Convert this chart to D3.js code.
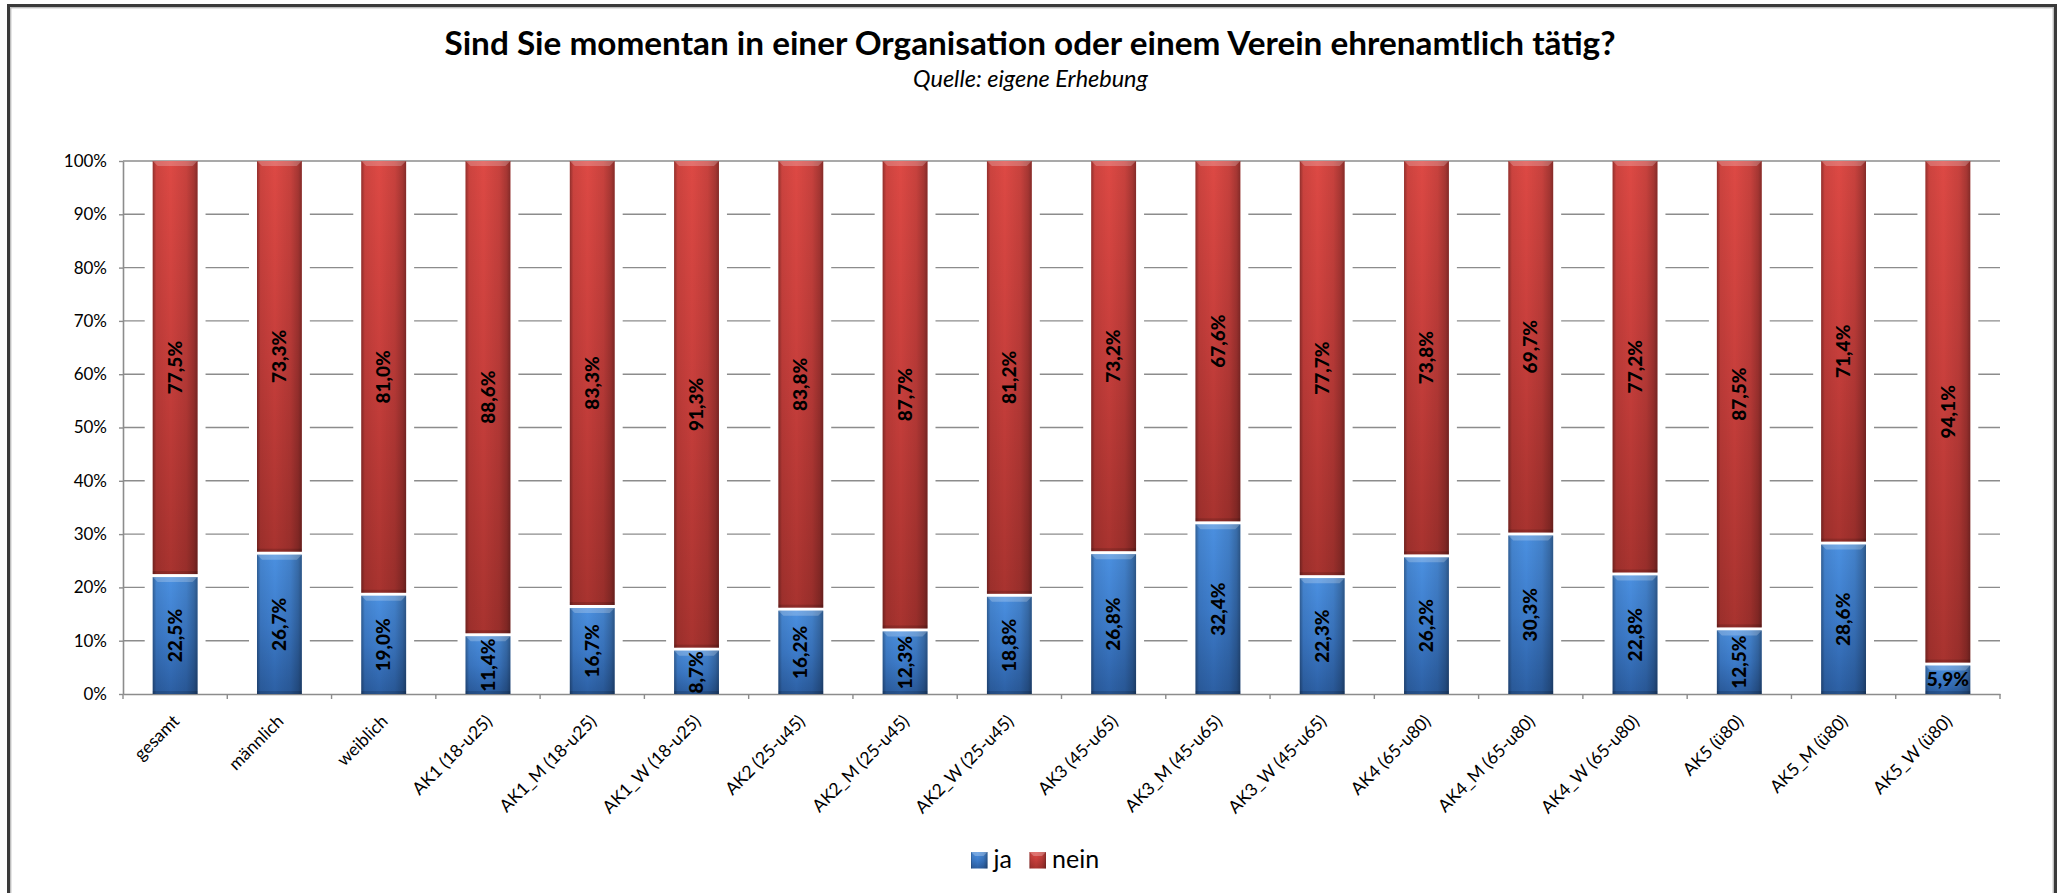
<!DOCTYPE html>
<html>
<head>
<meta charset="utf-8">
<script src="https://cdn.jsdelivr.net/npm/d3@7"></script>
<style>
  html, body { margin: 0; padding: 0; background: #fff; overflow: hidden; }
  text { font-family: Lato, "Open Sans", sans-serif; }
</style>
</head>
<body>
<svg id="chart" width="2063" height="893"></svg>
<script>
// ---- data ----
const categories = [
  "gesamt", "männlich", "weiblich",
  "AK1 (18-u25)", "AK1_M (18-u25)", "AK1_W (18-u25)",
  "AK2 (25-u45)", "AK2_M (25-u45)", "AK2_W (25-u45)",
  "AK3 (45-u65)", "AK3_M (45-u65)", "AK3_W (45-u65)",
  "AK4 (65-u80)", "AK4_M (65-u80)", "AK4_W (65-u80)",
  "AK5 (ü80)", "AK5_M (ü80)", "AK5_W (ü80)"
];
const jaValues   = [22.5, 26.7, 19.0, 11.4, 16.7, 8.7, 16.2, 12.3, 18.8, 26.8, 32.4, 22.3, 26.2, 30.3, 22.8, 12.5, 28.6, 5.9];
const neinValues = [77.5, 73.3, 81.0, 88.6, 83.3, 91.3, 83.8, 87.7, 81.2, 73.2, 67.6, 77.7, 73.8, 69.7, 77.2, 87.5, 71.4, 94.1];
const seriesKeys = ["ja", "nein"];
const yTickValues = [0, 10, 20, 30, 40, 50, 60, 70, 80, 90, 100];
const titleText = "Sind Sie momentan in einer Organisation oder einem Verein ehrenamtlich tätig?";
const subtitleText = "Quelle: eigene Erhebung";

// ---- setup ----
const svg = d3.select("#chart");
const defs = svg.append("defs");
const plot = { left: 123, right: 2000, top: 161, bottom: 694 };

const rows = categories.map((c, i) => ({ cat: c, ja: jaValues[i], nein: neinValues[i] }));
const stacked = d3.stack().keys(seriesKeys)(rows);

const x = d3.scaleBand().domain(categories).range([plot.left, plot.right]);
const y = d3.scaleLinear().domain([0, 100]).range([plot.bottom, plot.top]);
const barW = x.bandwidth() * 0.43;
const cx = c => x(c) + x.bandwidth() / 2;

const de = d3.formatLocale({ decimal: ",", thousands: ".", grouping: [3], currency: ["", " €"] });
const fmt = v => de.format(".1f")(v) + "%";

// ---- gradients ----
function vGrad(id, stops) {
  const g = defs.append("linearGradient").attr("id", id)
    .attr("x1", 0).attr("x2", 0).attr("y1", 0).attr("y2", 1);
  stops.forEach(([o, c]) => g.append("stop").attr("offset", o).attr("stop-color", c));
}
vGrad("fill-ja",   [[0, "#4b90e0"], [0.5, "#3d7ccb"], [1, "#2c5fa3"]]);
vGrad("fill-nein", [[0, "#dd4944"], [0.5, "#c63e3b"], [1, "#a8332f"]]);
const seriesFill = { ja: "url(#fill-ja)", nein: "url(#fill-nein)" };

const shade = defs.append("linearGradient").attr("id", "side-shade")
  .attr("x1", 0).attr("x2", 1).attr("y1", 0).attr("y2", 0);
[[0, 0.34], [0.08, 0.08], [0.4, 0], [0.75, 0.1], [0.92, 0.25], [1, 0.4]].forEach(([o, a]) =>
  shade.append("stop").attr("offset", o).attr("stop-color", "#000").attr("stop-opacity", a));

// ---- frame ----
svg.append("rect").attr("x", 0).attr("y", 0).attr("width", 2063).attr("height", 893).attr("fill", "#fff");
svg.append("rect")
  .attr("x", 8.5).attr("y", 5.5).attr("width", 2047).attr("height", 1000)
  .attr("fill", "#fff").attr("stroke", "#3a3a3a").attr("stroke-width", 3);
svg.append("rect")
  .attr("x", 10.75).attr("y", 7.75).attr("width", 2042.5).attr("height", 1000)
  .attr("fill", "none").attr("stroke", "#b4b4b4").attr("stroke-width", 1.2);

// ---- titles ----
function fitWidth(sel, target) {
  const fs = parseFloat(sel.attr("font-size"));
  const w = sel.node().getComputedTextLength();
  sel.attr("font-size", (fs * target / w).toFixed(2));
}
const title = svg.append("text")
  .attr("x", 1030).attr("y", 55).attr("text-anchor", "middle")
  .attr("font-size", 31).attr("font-weight", 700).attr("fill", "#000")
  .text(titleText);
fitWidth(title, 1171);

const subtitle = svg.append("text")
  .attr("x", 1030.5).attr("y", 87).attr("text-anchor", "middle")
  .attr("font-size", 18).attr("font-style", "italic").attr("fill", "#000")
  .text(subtitleText);
fitWidth(subtitle, 235);

// ---- grid ----
svg.append("g").selectAll("line")
  .data(yTickValues.filter(v => v > 0))
  .join("line")
  .attr("x1", plot.left).attr("x2", plot.right)
  .attr("y1", d => y(d)).attr("y2", d => y(d))
  .attr("stroke", "#8c8c8c").attr("stroke-width", 1.4);

// white halo around each bar interrupts the gridlines
svg.append("g").selectAll("rect")
  .data(categories)
  .join("rect")
  .attr("x", d => cx(d) - barW / 2 - 8)
  .attr("width", barW + 16)
  .attr("y", y(100) + 3)
  .attr("height", y(0) - y(100) - 4)
  .attr("fill", "#fff");

// ---- axes ----
const yAxis = svg.append("g")
  .attr("transform", `translate(${plot.left},0)`)
  .call(d3.axisLeft(y).tickValues(yTickValues).tickSize(4).tickSizeOuter(0).tickPadding(12).tickFormat(d => d + "%"));
yAxis.select(".domain").attr("stroke", "#8c8c8c").attr("stroke-width", 1.6);
yAxis.selectAll(".tick line").attr("stroke", "#8c8c8c").attr("stroke-width", 1.4);
yAxis.selectAll(".tick text")
  .attr("font-size", 17).attr("fill", "#000")
  .style("font-family", "Lato, 'Open Sans', sans-serif");

const xAxis = svg.append("g")
  .attr("transform", `translate(0,${plot.bottom})`)
  .call(d3.axisBottom(x).tickSize(0).tickSizeOuter(0));
xAxis.select(".domain").attr("stroke", "#8c8c8c").attr("stroke-width", 1.6);
xAxis.selectAll(".tick text")
  .attr("y", 0).attr("dy", "0.35em")
  .attr("text-anchor", "end")
  .attr("transform", "translate(1,24) rotate(-45)")
  .attr("font-size", 17.5).attr("fill", "#000")
  .style("font-family", "Lato, 'Open Sans', sans-serif");

// category boundary ticks
const bounds = categories.map(c => x(c)).concat([plot.right]);
svg.append("g").selectAll("line")
  .data(bounds)
  .join("line")
  .attr("x1", d => d).attr("x2", d => d)
  .attr("y1", plot.bottom).attr("y2", plot.bottom + 5)
  .attr("stroke", "#8c8c8c").attr("stroke-width", 1.4);

// ---- bars ----
const GAP = 3;
function segGeom(key, d) {
  const top = y(d[1]) + (key === "ja" ? GAP : 0);
  const bottom = y(d[0]);
  return { x0: cx(d.data.cat) - barW / 2, top, h: Math.max(0, bottom - top) };
}

const seriesG = svg.append("g").selectAll("g")
  .data(stacked)
  .join("g");

seriesG.each(function (s) {
  const key = s.key;
  const g = d3.select(this);
  const segs = s.map(d => Object.assign(segGeom(key, d), { d }));

  g.selectAll("rect.base").data(segs).join("rect").attr("class", "base")
    .attr("x", d => d.x0).attr("y", d => d.top).attr("width", barW).attr("height", d => d.h)
    .attr("fill", seriesFill[key]);

  g.selectAll("rect.shade").data(segs).join("rect").attr("class", "shade")
    .attr("x", d => d.x0).attr("y", d => d.top).attr("width", barW).attr("height", d => d.h)
    .attr("fill", "url(#side-shade)");

  // top bevel highlight
  g.selectAll("path.bevel").data(segs).join("path").attr("class", "bevel")
    .attr("d", d => `M${d.x0},${d.top}H${d.x0 + barW}L${d.x0 + barW - 5},${d.top + 5}H${d.x0 + 5}Z`)
    .attr("fill", "#fff").attr("fill-opacity", 0.22);

  // darker lower edge
  g.selectAll("rect.lower").data(segs).join("rect").attr("class", "lower")
    .attr("x", d => d.x0).attr("y", d => d.top + d.h - 3).attr("width", barW).attr("height", 3)
    .attr("fill", "#000").attr("fill-opacity", 0.14);
});

// ---- value labels ----
const labelG = svg.append("g");
stacked.forEach(s => {
  s.forEach(d => {
    const value = d[1] - d[0];
    const mx = cx(d.data.cat);
    const my = (y(d[0]) + y(d[1])) / 2 + (s.key === "ja" ? GAP / 2 : 0);
    const t = labelG.append("text")
      .attr("font-size", 19).attr("font-weight", 900).attr("fill", "#000")
      .attr("text-anchor", "middle").attr("dy", "0.35em")
      .text(fmt(value));
    const len = t.node().getComputedTextLength();
    const segH = y(d[0]) - y(d[1]);
    if (len < segH) {
      t.attr("transform", `translate(${mx},${my}) rotate(-90)`);
    } else {
      t.attr("transform", `translate(${mx},${my})`);
    }
  });
});

// ---- legend ----
const legendItems = [
  { key: "ja", x: 971 },
  { key: "nein", x: 1029.5 }
];
const lg = svg.append("g").selectAll("g").data(legendItems).join("g")
  .attr("transform", d => `translate(${d.x},852)`);
lg.append("rect").attr("width", 16.5).attr("height", 16.5).attr("fill", d => seriesFill[d.key]);
lg.append("rect").attr("width", 16.5).attr("height", 16.5).attr("fill", "url(#side-shade)");
lg.append("path").attr("d", "M0,0H16.5L12.5,4H4Z").attr("fill", "#fff").attr("fill-opacity", 0.25);
lg.append("text")
  .attr("x", 22.5).attr("y", 16)
  .attr("font-size", 25).attr("fill", "#000")
  .text(d => d.key);
</script>
</body>
</html>
